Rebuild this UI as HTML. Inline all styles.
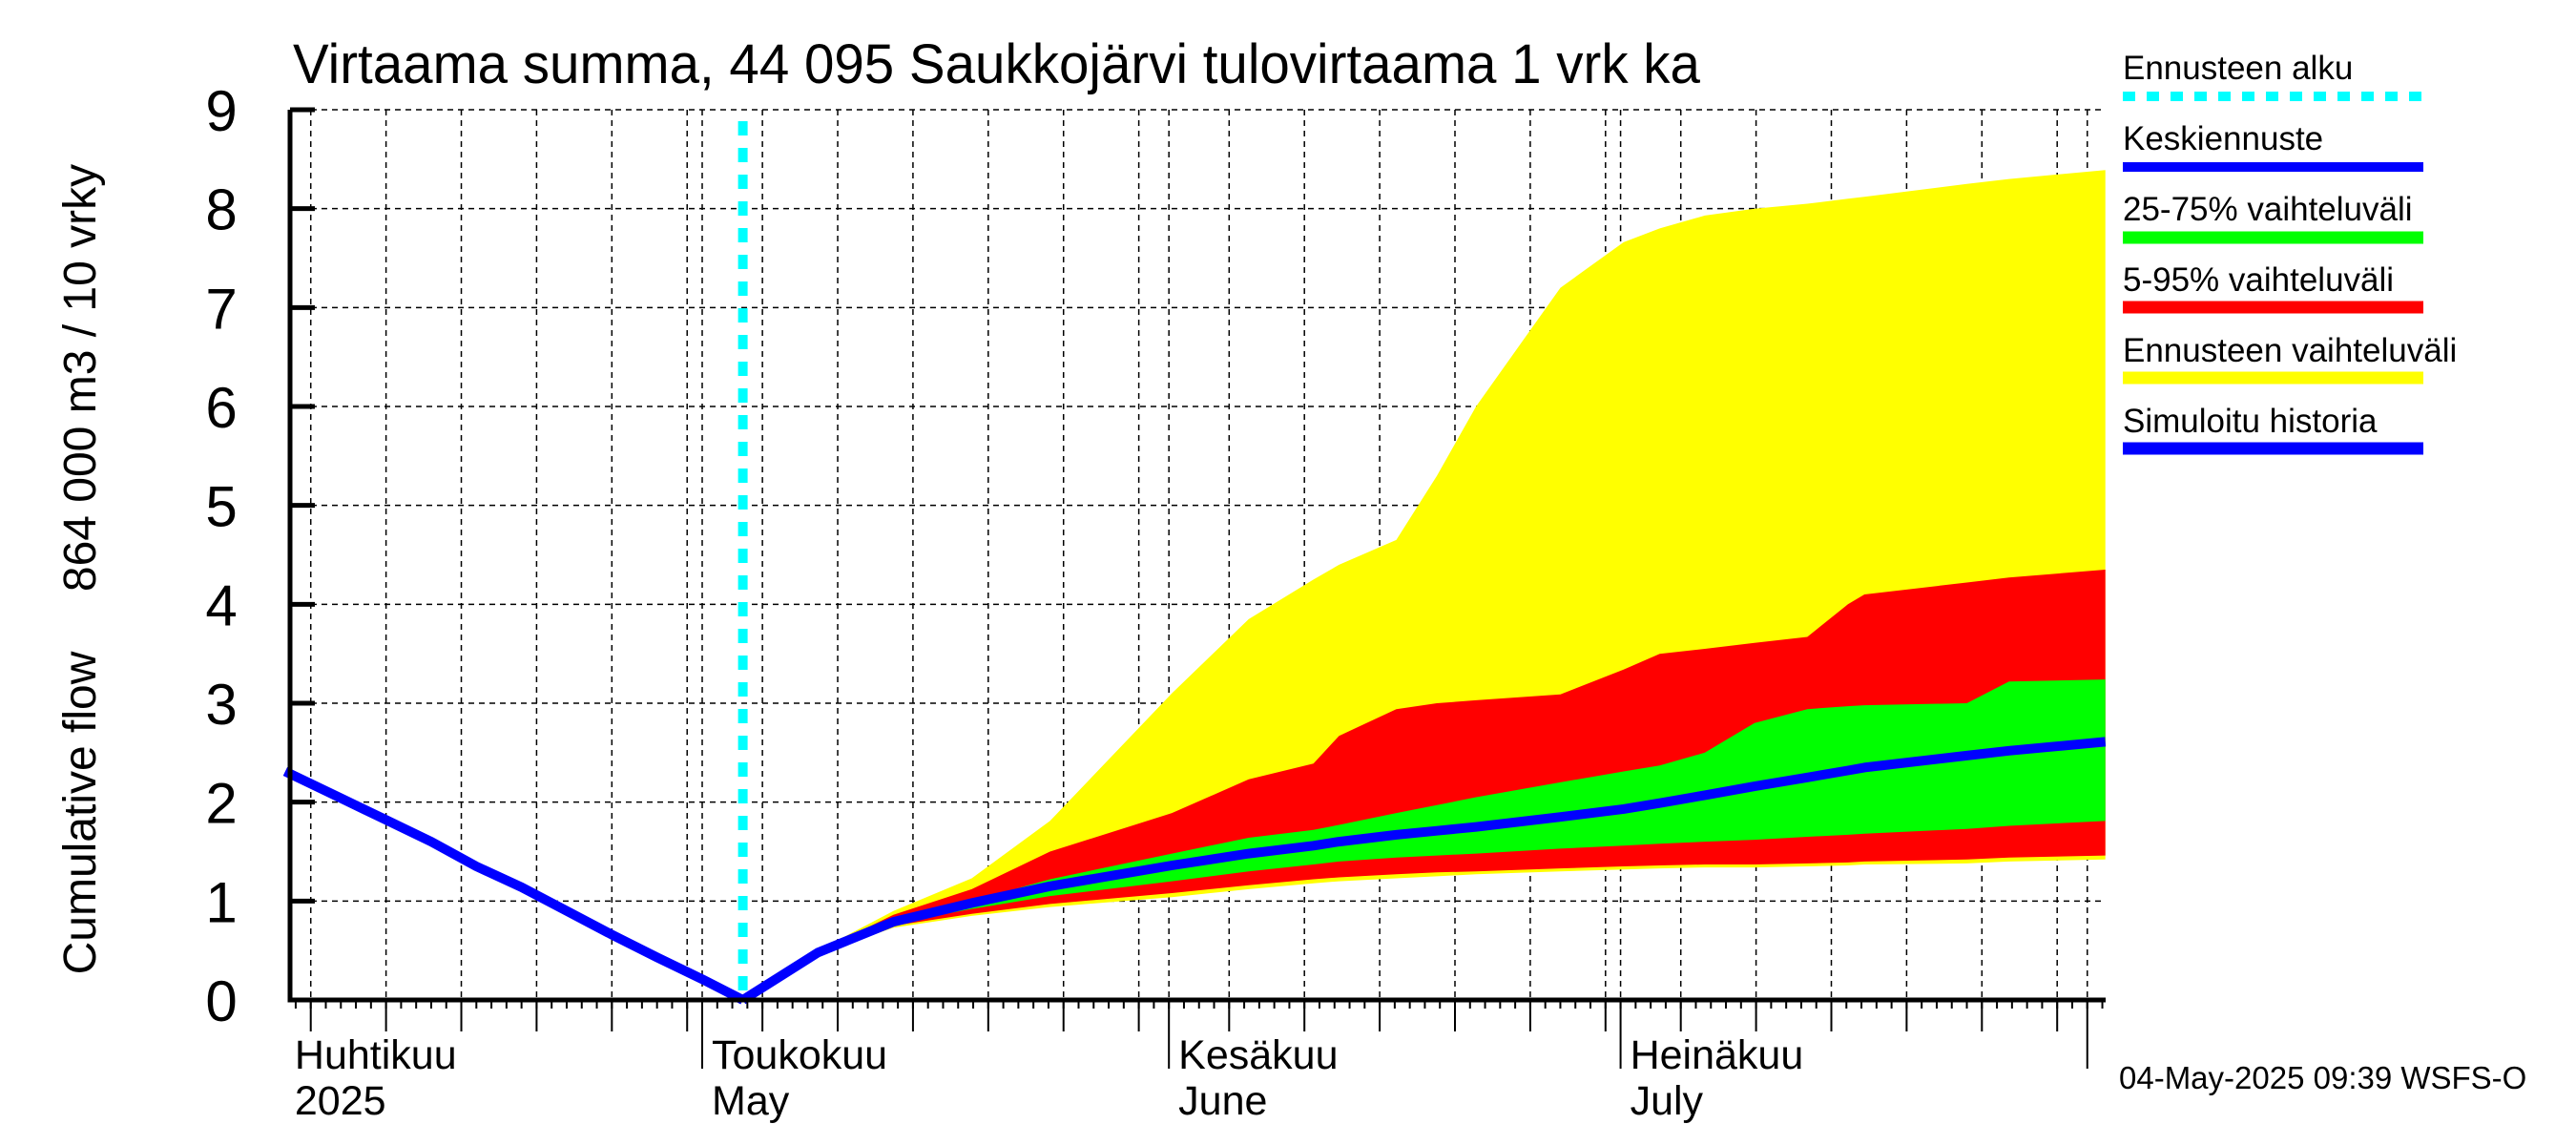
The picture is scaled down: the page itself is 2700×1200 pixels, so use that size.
<!DOCTYPE html>
<html><head><meta charset="utf-8"><style>
html,body{margin:0;padding:0;background:#fff;}
svg{display:block;font-family:"Liberation Sans",sans-serif;}
</style></head><body>
<svg id="chart" width="2700" height="1200" viewBox="0 0 2700 1200" xmlns="http://www.w3.org/2000/svg">
<rect width="2700" height="1200" fill="#fff"/>
<text x="307" y="87" font-size="58" textLength="1475" lengthAdjust="spacingAndGlyphs">Virtaama summa, 44 095 Saukkojärvi tulovirtaama 1 vrk ka</text>
<text transform="translate(100,396) rotate(-90)" text-anchor="middle" font-size="48">864 000 m3 / 10 vrky</text>
<text transform="translate(100,852) rotate(-90)" text-anchor="middle" font-size="48">Cumulative flow</text>
<g id="grid"></g>
<g id="bands"></g>
<g id="lines"></g>
<g id="axes"></g>
<text x="2221" y="1141" font-size="33">04-May-2025 09:39 WSFS-O</text>
<g font-size="35">
  <text x="2225" y="83">Ennusteen alku</text>
  <line x1="2225" y1="101" x2="2540" y2="101" stroke="#00FFFF" stroke-width="10" stroke-dasharray="13,12"/>
  <text x="2225" y="157">Keskiennuste</text>
  <line x1="2225" y1="175" x2="2540" y2="175" stroke="#0000FF" stroke-width="10"/>
  <text x="2225" y="231">25-75% vaihteluväli</text>
  <line x1="2225" y1="249" x2="2540" y2="249" stroke="#00FF00" stroke-width="13"/>
  <text x="2225" y="305">5-95% vaihteluväli</text>
  <line x1="2225" y1="322" x2="2540" y2="322" stroke="#FF0000" stroke-width="13"/>
  <text x="2225" y="379">Ennusteen vaihteluväli</text>
  <line x1="2225" y1="396" x2="2540" y2="396" stroke="#FFFF00" stroke-width="13"/>
  <text x="2225" y="453">Simuloitu historia</text>
  <line x1="2225" y1="470" x2="2540" y2="470" stroke="#0000FF" stroke-width="13"/>
</g>
</svg>
<script>
// days relative to 1 May 2025
const histDays = [-27.7,-24,-21,-18,-15,-12,-9,-6,-3,0,2.7];
const histVals = [2.31,2.04,1.82,1.60,1.35,1.14,0.90,0.66,0.43,0.21,0];
const fcDays = [2.7,7.7,12.7,17.9,23.1,31.2,36.3,40.6,42.3,46.1,48.8,51.4,57.0,61.2,63.6,66.6,69.9,73.4,76.1,77.2,84,86.8,93.2];
const maxVals = [0,0.5,0.9,1.23,1.81,3.1,3.85,4.25,4.4,4.65,5.3,6.0,7.2,7.66,7.8,7.93,8.0,8.05,8.1,8.12,8.25,8.3,8.39];
const p95Vals = [0,0.49,0.86,1.12,1.5,1.89,2.23,2.39,2.67,2.94,3.0,3.03,3.09,3.34,3.5,3.55,3.61,3.67,4.0,4.1,4.22,4.27,4.35];
const p75Vals = [0,0.48,0.8,1.0,1.22,1.48,1.64,1.72,1.77,1.89,1.97,2.05,2.2,2.31,2.37,2.5,2.8,2.94,2.97,2.98,3.0,3.22,3.24];
const medVals = [0,0.48,0.79,0.98,1.15,1.36,1.48,1.56,1.6,1.67,1.71,1.75,1.85,1.93,1.99,2.07,2.16,2.25,2.32,2.35,2.47,2.52,2.61];
const p25Vals = [0,0.47,0.77,0.92,1.05,1.2,1.3,1.37,1.4,1.44,1.46,1.48,1.53,1.56,1.58,1.6,1.62,1.65,1.67,1.68,1.73,1.76,1.81];
const p5Vals  = [0,0.47,0.75,0.87,0.97,1.08,1.16,1.22,1.24,1.27,1.29,1.30,1.33,1.35,1.36,1.37,1.37,1.38,1.39,1.40,1.42,1.44,1.46];
const minVals = [0,0.46,0.73,0.85,0.94,1.04,1.12,1.18,1.2,1.23,1.25,1.27,1.30,1.32,1.33,1.34,1.34,1.35,1.36,1.37,1.38,1.40,1.42];
const forecastStart = 2.7;
const yTicks = [0,1,2,3,4,5,6,7,8,9];
const monthStarts = [-30,0,31,61,92];
const monthLabels = ["Huhtikuu","Toukokuu","Kesäkuu","Heinäkuu"];
const monthLabels2 = ["2025","May","June","July"];
const labelDays = [-27.7,0,31,61];

const L=304,R=2207,T=115,B=1048,D0=736,DPX=15.78,YU=(B-T)/9;
const X=d=>D0+d*DPX, Y=v=>B-v*YU;
const NS="http://www.w3.org/2000/svg";
function mk(tag,parent,attrs){const e=document.createElementNS(NS,tag);for(const k in attrs)e.setAttribute(k,attrs[k]);parent.appendChild(e);return e;}
const grid=document.getElementById('grid'),bands=document.getElementById('bands'),lines=document.getElementById('lines'),axes=document.getElementById('axes');

yTicks.forEach(v=>{if(v===0)return;const g=mk('line',grid,{x1:L,x2:R,y1:Y(v),y2:Y(v),stroke:'#000','stroke-width':1.5,'stroke-dasharray':'6,5'});

});
const gridDays=[];
for(let m=0;m<4;m++){const s=monthStarts[m],len=monthStarts[m+1]-s;gridDays.push(s);[5,10,15,20,25,30].forEach(k=>{if(k-1<len)gridDays.push(s+k-1);});}
gridDays.push(92);
gridDays.forEach(d=>{const x=X(d);if(x<=L+2||x>R)return;const g=mk('line',grid,{x1:x,x2:x,y1:T,y2:B,stroke:'#000','stroke-width':1.5,'stroke-dasharray':'6,5'});

});

function band(up,lo,color,name){let p='';fcDays.forEach((d,i)=>{p+=(i?'L':'M')+X(d).toFixed(1)+','+Y(up[i]).toFixed(1);});
for(let i=fcDays.length-1;i>=0;i--)p+='L'+X(fcDays[i]).toFixed(1)+','+Y(lo[i]).toFixed(1);
const e=mk('path',bands,{d:p+'Z',fill:color});

}
band(maxVals,minVals,'#FFFF00','range-band');
band(p95Vals,p5Vals,'#FF0000','band-5-95');
band(p75Vals,p25Vals,'#00FF00','band-25-75');

function line(ds,vs,name){const pts=ds.map((d,i)=>X(d).toFixed(1)+','+Y(vs[i]).toFixed(1)).join(' ');
const e=mk('polyline',lines,{points:pts,fill:'none',stroke:'#0000FF','stroke-width':10,'stroke-linejoin':'round'});

}
line(histDays,histVals,'history-line');
line(fcDays,medVals,'median-line');

const fs=mk('line',lines,{x1:X(forecastStart),x2:X(forecastStart),y1:T+12,y2:B,stroke:'#00FFFF','stroke-width':10,'stroke-dasharray':'15,13'});



const ax=mk('path',axes,{d:`M${L},${T}V${B}H${R}`,fill:'none',stroke:'#000','stroke-width':5});


yTicks.forEach(v=>{const t=mk('line',axes,{x1:L,x2:L+26,y1:Y(v),y2:Y(v),stroke:'#000','stroke-width':5});


const tx=mk('text',axes,{x:232,y:Y(v)+22,'text-anchor':'middle','font-size':60});
tx.textContent=String(v);

});
for(let d=-27;d<=93;d++){const x=X(d);if(x<L||x>R)continue;const t=mk('line',axes,{x1:x,x2:x,y1:B,y2:B+9,stroke:'#000','stroke-width':2});

}
gridDays.forEach(d=>{const x=X(d);if(x<L||x>R)return;const isM=monthStarts.includes(d);const t=mk('line',axes,{x1:x,x2:x,y1:B,y2:B+(isM?72:33),stroke:'#000','stroke-width':2});

});
monthLabels.forEach((m,i)=>{const x=Math.max(X(labelDays[i])+10,307);
const t1=mk('text',axes,{x:x,y:1120,'font-size':43});t1.textContent=m;


const t2=mk('text',axes,{x:x,y:1168,'font-size':43});t2.textContent=monthLabels2[i];

});
</script>
</body></html>
